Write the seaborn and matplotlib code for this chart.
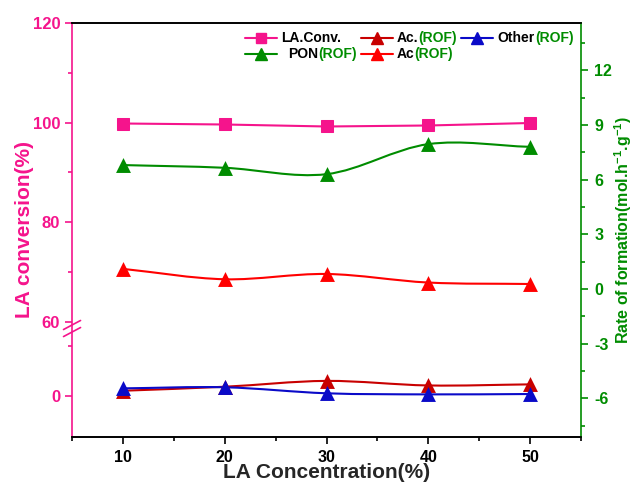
import numpy as np
import matplotlib
matplotlib.use('Agg')
import matplotlib.pyplot as plt
import matplotlib.ticker as mticker
from matplotlib.path import Path
from matplotlib.patches import PathPatch
from matplotlib.lines import Line2D
from matplotlib.offsetbox import AnchoredOffsetbox, DrawingArea, HPacker, TextArea, VPacker
import seaborn as sns

# data
conc = [10, 20, 30, 40, 50]
la_conv = [99.8, 99.6, 99.2, 99.4, 99.9]          # left axis, %
pon_rof = [6.8, 6.65, 6.3, 7.95, 7.8]             # right axis
ac_rof = [1.1, 0.53, 0.82, 0.35, 0.27]
ac_dot_rof = [-5.59, -5.37, -5.05, -5.3, -5.24]
other_rof = [-5.46, -5.4, -5.73, -5.79, -5.77]

x_ticks = [10, 20, 30, 40, 50]
left_ticks = [0, 60, 80, 100, 120]
left_minor = [10, 70, 90, 110]
right_ticks = [-6, -3, 0, 3, 6, 9, 12]

PINK = '#F5148C'
GREEN = '#008C00'
RED = '#FF0000'
DARKRED = '#C80000'
BLUE = '#0A0AC8'

sns.set_theme(style='ticks')
plt.rcParams['font.family'] = ['Liberation Sans', 'DejaVu Sans']
plt.rcParams.update({
    'font.weight': 'bold',
    'axes.labelweight': 'bold',
    'axes.linewidth': 1.2,
    'axes.unicode_minus': False,
    'mathtext.fontset': 'custom',
    'mathtext.rm': 'Liberation Sans:bold',
    'mathtext.bf': 'Liberation Sans:bold',
    'mathtext.default': 'bf',
})

# broken left axis: 13.6 .. 58.6 is cut out
LOW_TOP, UP_BOTTOM = 13.6, 58.6
GAP = UP_BOTTOM - LOW_TOP


def fwd(y):
    y = np.asarray(y, float)
    return np.where(y > LOW_TOP, y - GAP, y)


def inv(v):
    v = np.asarray(v, float)
    return np.where(v > LOW_TOP, v + GAP, v)


def spline_path(x, y):
    # smooth connecting curve through the points (bezier segments)
    x = np.asarray(x, float)
    y = np.asarray(y, float)
    m = np.gradient(y, x)
    verts = [(x[0], y[0])]
    codes = [Path.MOVETO]
    for i in range(len(x) - 1):
        h = x[i + 1] - x[i]
        verts += [(x[i] + h / 3, y[i] + m[i] * h / 3),
                  (x[i + 1] - h / 3, y[i + 1] - m[i + 1] * h / 3),
                  (x[i + 1], y[i + 1])]
        codes += [Path.CURVE4] * 3
    return Path(verts, codes)


fig = plt.figure(figsize=(6.38, 4.88), dpi=100)
ax = fig.add_axes([0.1129, 0.1045, 0.7978, 0.8484])
ax2 = ax.twinx()

# left axis: LA conversion
ax.set_yscale('function', functions=(fwd, inv))
sns.lineplot(x=conc, y=la_conv, ax=ax, color=PINK, marker='s', markersize=8,
             markeredgecolor=PINK, linewidth=1.5, legend=False)
ax.set_ylim(-8.2, 120)
ax.set_yticks(left_ticks)
ax.set_yticks(left_minor, minor=True)
ax.set_xlim(5, 55)
ax.set_xticks(x_ticks)
ax.xaxis.set_minor_locator(mticker.AutoMinorLocator(2))

# right axis: rate of formation
series = [(pon_rof, GREEN), (ac_rof, RED), (ac_dot_rof, DARKRED), (other_rof, BLUE)]
for vals, col in series:
    ax2.add_patch(PathPatch(spline_path(conc, vals), fill=False, edgecolor=col, lw=1.5, zorder=2))
    sns.scatterplot(x=conc, y=vals, ax=ax2, color=col, marker='^', s=115,
                    linewidth=0, zorder=3, legend=False)
ax2.set_ylim(-8.13, 14.6)
ax2.set_yticks(right_ticks)
ax2.yaxis.set_minor_locator(mticker.AutoMinorLocator(2))
ax2.set_xlim(5, 55)

# spines and ticks
ax.spines['left'].set_color(PINK)
ax.spines['right'].set_visible(False)
ax2.spines['left'].set_visible(False)
ax2.spines['right'].set_color(GREEN)
for a in (ax, ax2):
    a.spines['top'].set_color('black')
    a.spines['bottom'].set_color('black')
ax.tick_params(axis='y', which='major', colors=PINK, length=5, width=1.2, labelsize=12, pad=3.5)
ax.tick_params(axis='y', which='minor', colors=PINK, length=3, width=1.2)
ax.tick_params(axis='x', which='major', colors='black', length=5, width=1.2, labelsize=11.5, pad=4)
ax.tick_params(axis='x', which='minor', colors='black', length=3, width=1.2)
ax2.tick_params(axis='y', which='major', colors=GREEN, length=5, width=1.2, labelsize=11.5, pad=4.5)
ax2.tick_params(axis='y', which='minor', colors=GREEN, length=3, width=1.2)

ax.set_xlabel('LA Concentration(%)', fontsize=15, labelpad=-1)
ax.set_ylabel('LA conversion(%)', fontsize=15, color=PINK, labelpad=-1)
ax2.set_ylabel(r'Rate of formation(mol.h$^{-1}$.g$^{-1}$)', fontsize=11.5, color=GREEN, labelpad=0)

# break marks on the left spine
yb = ax.transAxes.inverted().transform(ax.transData.transform((5, UP_BOTTOM)))[1]
for off in (-0.0085, 0.0085):
    ax.plot([-0.0167, 0.0167], [yb + off - 0.0109, yb + off + 0.0109], transform=ax.transAxes,
            color=PINK, lw=1.2, clip_on=False, zorder=5)


# legend with two-colour labels
def entry(color, marker, ms, name, rof=True, sep=3):
    da = DrawingArea(23, 10, 0, 0)
    da.add_artist(Line2D([0, 23], [5, 5], color=color, lw=1.5))
    da.add_artist(Line2D([11.5], [5], color=color, marker=marker, ms=ms, mec=color, lw=0))
    tp = dict(fontsize=10, fontweight='bold', color='black')
    parts = [TextArea(name, textprops=tp)]
    if rof:
        parts.append(TextArea('(ROF)', textprops=dict(tp, color=GREEN)))
    return HPacker(children=[da, HPacker(children=parts, sep=0, pad=0)], sep=sep, pad=0, align='center')


col1 = VPacker(children=[entry(PINK, 's', 7, 'LA.Conv.', rof=False),
                         entry(GREEN, '^', 9, 'PON', sep=8)], sep=1.5, pad=0, align='left')
col2 = VPacker(children=[entry(DARKRED, '^', 9, 'Ac.'),
                         entry(RED, '^', 9, 'Ac')], sep=1.5, pad=0, align='left')
col3 = VPacker(children=[entry(BLUE, '^', 9, 'Other')], sep=1.5, pad=0, align='left')
box = HPacker(children=[col1, col2, col3], sep=3, pad=0, align='top')
leg = AnchoredOffsetbox(loc='upper right', child=box, pad=0.2, borderpad=0.3, frameon=False,
                        bbox_to_anchor=(1.0, 1.0), bbox_transform=ax2.transAxes)
ax2.add_artist(leg)

fig.savefig('out.png', dpi=100)
